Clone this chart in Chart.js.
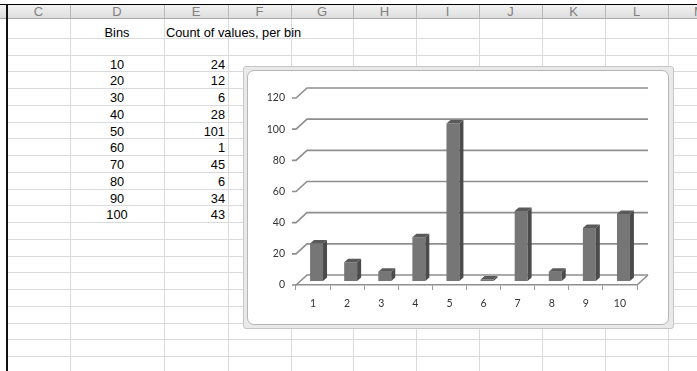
<!DOCTYPE html>
<html>
<head>
<meta charset="utf-8">
<script src="https://cdn.jsdelivr.net/npm/chart.js@4.4.1/dist/chart.umd.min.js"></script>
<style>
  body { margin: 0; width: 697px; height: 371px; overflow: hidden; background: #fff;
         font-family: "Liberation Sans", Arial, sans-serif; position: relative; }
  .abs { position: absolute; }
  .hdr { left: 0; top: 4px; width: 697px; height: 13px; background: linear-gradient(#f2f2f2, #dedede);
         border-top: 1px solid #000; border-bottom: 1px solid #a9a9a9; }
  .hcell { top: 4px; height: 15px; line-height: 15px; text-align: center; color: #808080; font-size: 13px; }
  .vline { top: 5px; bottom: 0; width: 1px; background: #d8dadb; }
  .hline { left: 8px; right: 0; height: 1px; background: #d8dadb; }
  .cell { height: 15px; line-height: 15px; font-size: 12.8px; color: #000; white-space: nowrap; }
  .frame { left: 243px; top: 66px; width: 429px; height: 261px; background: #e9e9e9;
           border: 1px solid #c6c6c6; border-radius: 3px; }
  .inner { left: 247px; top: 70px; width: 420px; height: 253px; background: #fff;
           border: 1px solid #b5b5b5; border-radius: 7px; overflow: hidden; }
</style>
</head>
<body>
<div id="sheet"></div>
<div class="abs frame"></div>
<div class="abs inner"><canvas id="chart" width="420" height="253"></canvas></div>

<script>
/* ------------------------------------------------------------
   DATA
------------------------------------------------------------ */
const bins = [10, 20, 30, 40, 50, 60, 70, 80, 90, 100];
const counts = [24, 12, 6, 28, 101, 1, 45, 6, 34, 43];
const binLabels = ["1", "2", "3", "4", "5", "6", "7", "8", "9", "10"];
const yTicks = [0, 20, 40, 60, 80, 100, 120];

const colLetters = ["C", "D", "E", "F", "G", "H", "I", "J", "K", "L", "M"];
const colEdges = [7, 70, 164, 228, 291, 353, 416, 479, 542, 605, 668, 731];

/* ------------------------------------------------------------
   SPREADSHEET BACKGROUND
------------------------------------------------------------ */
const sheet = document.getElementById("sheet");
const ROW_H = 16.74;
const FIRST_ROW = 38;

function add(cls, style, text) {
  const d = document.createElement("div");
  d.className = "abs " + cls;
  Object.assign(d.style, style);
  if (text !== undefined) d.textContent = text;
  sheet.appendChild(d);
  return d;
}

for (let k = 0; k < 20; k++) {
  add("hline", { top: (FIRST_ROW + k * ROW_H) + "px" });
}
colEdges.slice(1).forEach(x => add("vline", { left: x + "px" }));
add("hdr", {});
colLetters.forEach((c, i) => {
  const l = colEdges[i], r = colEdges[i + 1];
  add("hcell", { left: l + "px", width: (r - l) + "px" }, c);
  add("", { left: r + "px", top: "5px", width: "1px", height: "13px", background: "#b8b8b8" });
});
add("", { left: "6px", top: "4px", width: "2px", bottom: "0", background: "#111" });

// header texts
add("cell", { left: "70px", width: "94px", top: "24.5px", textAlign: "center" }, "Bins");
add("cell", { left: "166px", top: "24.5px" }, "Count of values, per bin");

// table values
bins.forEach((b, i) => {
  const cy = FIRST_ROW + (i + 1) * ROW_H + ROW_H / 2 + 1;
  add("cell", { left: "70px", width: "94px", top: (cy - 7.5) + "px", textAlign: "center" }, String(b));
  add("cell", { left: "164px", width: "61px", top: (cy - 7.5) + "px", textAlign: "right" }, String(counts[i]));
});

/* ------------------------------------------------------------
   3D LOOK (walls, floor, bar sides)
------------------------------------------------------------ */
const wallDepth = { dx: 11, dy: -10 };
const barShift = { dx: 3.5, dy: -4 };
const barDepth = { dx: 4, dy: -3.5 };

const fake3d = {
  id: "fake3d",
  beforeDatasetsDraw(chart) {
    const { ctx, chartArea: a, scales: { y } } = chart;
    ctx.save();
    ctx.strokeStyle = "#8e8e8e";
    ctx.lineWidth = 1.6;
    yTicks.forEach(v => {
      const py = y.getPixelForValue(v);
      ctx.beginPath();
      ctx.moveTo(a.left - 4, py);
      ctx.lineTo(a.left, py);
      ctx.lineTo(a.left + wallDepth.dx, py + wallDepth.dy);
      ctx.lineTo(a.right + wallDepth.dx, py + wallDepth.dy);
      ctx.stroke();
    });
    // right edge of the floor
    const p0 = y.getPixelForValue(0);
    ctx.beginPath();
    ctx.moveTo(a.right, p0);
    ctx.lineTo(a.right + wallDepth.dx, p0 + wallDepth.dy);
    ctx.stroke();
    ctx.restore();

    // bars sit a little back on the floor
    ctx.save();
    ctx.translate(barShift.dx, barShift.dy);
  },
  afterDatasetsDraw(chart) {
    const ctx = chart.ctx;
    chart.getDatasetMeta(0).data.forEach(bar => {
      const { x, y, width, base } = bar.getProps(["x", "y", "width", "base"], true);
      const l = x - width / 2, r = x + width / 2;

      ctx.fillStyle = "#4b4b4b";
      ctx.beginPath();
      ctx.moveTo(r, base);
      ctx.lineTo(r, y);
      ctx.lineTo(r + barDepth.dx, y + barDepth.dy);
      ctx.lineTo(r + barDepth.dx, base + barDepth.dy);
      ctx.closePath();
      ctx.fill();

      ctx.fillStyle = "#5a5a5a";
      ctx.beginPath();
      ctx.moveTo(l, y);
      ctx.lineTo(r, y);
      ctx.lineTo(r + barDepth.dx, y + barDepth.dy);
      ctx.lineTo(l + barDepth.dx, y + barDepth.dy);
      ctx.closePath();
      ctx.fill();
    });
    ctx.restore();
  }
};

/* ------------------------------------------------------------
   CHART
------------------------------------------------------------ */
const tickFont = { family: "Lato, 'DejaVu Sans', sans-serif", size: 10.5 };

new Chart(document.getElementById("chart"), {
  type: "bar",
  data: {
    labels: binLabels,
    datasets: [{
      data: counts,
      backgroundColor: "#767676",
      borderWidth: 0,
      categoryPercentage: 1,
      barPercentage: 0.38
    }]
  },
  options: {
    responsive: false,
    animation: false,
    devicePixelRatio: 1,
    layout: { padding: { top: 27, right: 31, left: 0, bottom: 0 } },
    plugins: { legend: { display: false }, tooltip: { enabled: false } },
    scales: {
      x: {
        grid: { display: true, drawOnChartArea: false, drawTicks: true, tickLength: 5, offset: true, color: "#9a9a9a" },
        border: { display: true, color: "#8e8e8e", width: 1.6 },
        ticks: { font: tickFont, color: "#333", padding: 7, maxRotation: 0 },
        afterFit: s => { s.height = 39; }
      },
      y: {
        min: 0,
        max: 120,
        afterBuildTicks: s => { s.ticks = yTicks.map(v => ({ value: v })); },
        ticks: { font: tickFont, color: "#333", padding: 11 },
        grid: { display: false, drawTicks: false },
        border: { display: false },
        afterFit: s => { s.width = 48; }
      }
    }
  },
  plugins: [fake3d]
});
</script>
</body>
</html>
